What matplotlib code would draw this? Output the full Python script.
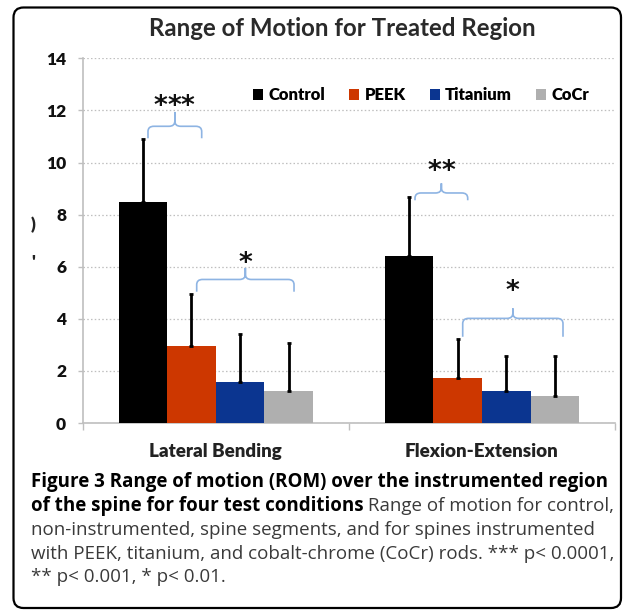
import matplotlib
matplotlib.use("Agg")
import matplotlib.pyplot as plt
from matplotlib import font_manager as fm
from matplotlib.patches import Patch, FancyBboxPatch
from matplotlib.path import Path
from matplotlib.patches import PathPatch
from matplotlib.transforms import IdentityTransform
import numpy as np

# ---------------- data ----------------
categories = ["Lateral Bending", "Flexion-Extension"]
series = ["Control", "PEEK", "Titanium", "CoCr"]
colors = ["#000000", "#CD3700", "#0B3590", "#AFAFAF"]
control = [8.47, 6.41]
peek = [2.95, 1.71]
titanium = [1.58, 1.23]
cocr = [1.23, 1.04]
control_err = [2.45, 2.26]
peek_err = [2.00, 1.50]
titanium_err = [1.82, 1.35]
cocr_err = [1.83, 1.54]
yticks = [0, 2, 4, 6, 8, 10, 12, 14]
title = "Range of Motion for Treated Region"

W, H = 632, 615
fig = plt.figure(figsize=(W / 100, H / 100), dpi=100)
fig.patch.set_facecolor("white")

def fx(px):
    return px / W

def fy(py):
    return 1 - py / H

ax_l, ax_r, ax_t, ax_b = 82.7, 615, 58.3, 423
ax = fig.add_axes([fx(ax_l), fy(ax_b), fx(ax_r) - fx(ax_l), fy(ax_t) - fy(ax_b)])

chart_font = "Lato"
ytick_fp = fm.FontProperties(family=chart_font, weight="heavy", size=12.5)
xtick_fp = fm.FontProperties(family=chart_font, weight="heavy", size=13.5)

x = np.arange(len(categories))
w = 0.1827
values = [control, peek, titanium, cocr]
errs = [control_err, peek_err, titanium_err, cocr_err]
for i, (vals, er, c, name) in enumerate(zip(values, errs, colors, series)):
    ax.bar(x + (i - 1.5) * w, vals, w, color=c, label=name, zorder=3,
           yerr=[np.zeros(len(er)), er],
           error_kw=dict(ecolor="black", elinewidth=2.0, capsize=1.6, capthick=2.0, zorder=4))

ax.set_xlim(-0.5, 1.5)
ax.set_ylim(0, 14)
ax.set_yticks(yticks)
ax.set_yticklabels([str(t) for t in yticks], fontproperties=ytick_fp, color="#111111")
ax.set_xticks(x)
ax.set_xticklabels(categories, fontproperties=xtick_fp, color="#222222")
ax.set_xticks([-0.5, 0.5, 1.5], minor=True)
ax.tick_params(axis="x", which="major", length=0, pad=14.5)
ax.tick_params(axis="x", which="minor", length=5, color="#BFBFBF", width=1)
ax.tick_params(axis="y", length=3.6, color="#BFBFBF", width=1, pad=8.4)

ax.grid(axis="y", color="#BFBFBF", linestyle=(0, (1.2, 1.8)), linewidth=0.9, zorder=0)
for s in ["top", "right"]:
    ax.spines[s].set_visible(False)
ax.spines["left"].set_color("#BFBFBF")
ax.spines["bottom"].set_color("#BFBFBF")
ax.spines["left"].set_linewidth(1.2)
ax.spines["bottom"].set_linewidth(1.2)

# braces
brace_color = "#8EB4E3"
def brace(x0, x1, y_line, y_end, y_peak):
    xm = (x0 + x1) / 2
    rx, ry = 0.022, 0.2
    verts = [(x0, y_end), (x0, y_line - ry), (x0, y_line), (x0 + rx, y_line),
             (xm - rx, y_line), (xm, y_line), (xm, y_line + ry), (xm, y_peak),
             (xm, y_line + ry), (xm, y_line), (xm + rx, y_line),
             (x1 - rx, y_line), (x1, y_line), (x1, y_line - ry), (x1, y_end)]
    codes = [Path.MOVETO, Path.LINETO, Path.CURVE3, Path.CURVE3,
             Path.LINETO, Path.CURVE3, Path.CURVE3, Path.LINETO,
             Path.LINETO, Path.CURVE3, Path.CURVE3,
             Path.LINETO, Path.CURVE3, Path.CURVE3, Path.LINETO]
    ax.add_patch(PathPatch(Path(verts, codes), facecolor="none", edgecolor=brace_color,
                           linewidth=1.2, zorder=5, clip_on=False))

brace(-0.2547, -0.0529, 11.39, 10.93, 11.94)
brace(-0.0717, 0.294, 5.51, 5.04, 5.95)
brace(0.7486, 0.9466, 8.83, 8.55, 9.20)
brace(0.9278, 1.3046, 4.016, 3.31, 4.40)

def stars(xc, yc, n):
    step = 10.0  # points between stars
    for k in range(n):
        off = (k - (n - 1) / 2) * step
        ax.annotate("*", xy=(xc, yc), xytext=(off, -4), textcoords="offset points",
                    ha="center", va="center", fontfamily="DejaVu Sans", fontweight="bold",
                    fontsize=19, color="#111111", zorder=6)

stars(-0.157, 12.35, 3)
stars(0.1098, 6.33, 1)
stars(0.849, 9.84, 2)
stars(1.113, 5.25, 1)

# legend
handles = [Patch(facecolor=c, label=s) for c, s in zip(colors, series)]
ax.legend(handles=handles, loc="center", bbox_to_anchor=(fx(421), fy(95)),
          bbox_transform=fig.transFigure, ncol=4, frameon=False,
          handlelength=0.62, handleheight=0.62, handletextpad=0.3,
          columnspacing=1.45, borderaxespad=0, borderpad=0,
          prop=fm.FontProperties(family=chart_font, weight="heavy", size=12))

fig.text(fx(342), fy(28.3), title, ha="center", va="center",
         fontproperties=fm.FontProperties(family=chart_font, weight="bold", size=17.3),
         color="#2a2a2a")

# truncated y-label remnants
fig.text(fx(33), fy(225), ")", ha="center", va="center", fontproperties=ytick_fp, color="#222222")
fig.text(fx(33), fy(262), "'", ha="center", va="center", fontproperties=ytick_fp, color="#222222")

# caption
cap_font = "Open Sans"
cap_size = 13.5
reg_color = "#3a3a3a"
cx = fx(30.7)
fig.text(cx, fy(482), "Figure 3 Range of motion (ROM) over the instrumented region",
         ha="left", va="center", fontfamily=cap_font, fontweight="bold", fontsize=cap_size)
tb = fig.text(cx, fy(506), "of the spine for four test conditions",
              ha="left", va="center", fontfamily=cap_font, fontweight="bold", fontsize=cap_size)
fig.add_artist(matplotlib.text.Annotation(" Range of motion for control,", xy=(1, 0.5),
               xycoords=tb, ha="left", va="center", fontfamily=cap_font,
               fontsize=cap_size, color=reg_color))
fig.text(cx, fy(530), "non-instrumented, spine segments, and for spines instrumented",
         ha="left", va="center", fontfamily=cap_font, fontsize=cap_size, color=reg_color)
fig.text(cx, fy(554), "with PEEK, titanium, and cobalt-chrome (CoCr) rods. *** p< 0.0001,",
         ha="left", va="center", fontfamily=cap_font, fontsize=cap_size, color=reg_color)
fig.text(cx, fy(577), "** p< 0.001, * p< 0.01.",
         ha="left", va="center", fontfamily=cap_font, fontsize=cap_size, color=reg_color)

# rounded frame
frame = FancyBboxPatch((13.5, H - 608), 607.5, 600.5, boxstyle="round,pad=0,rounding_size=10",
                       transform=IdentityTransform(), facecolor="none", edgecolor="black",
                       linewidth=1.6)
fig.patches.append(frame)

fig.savefig("out.png", dpi=100)
